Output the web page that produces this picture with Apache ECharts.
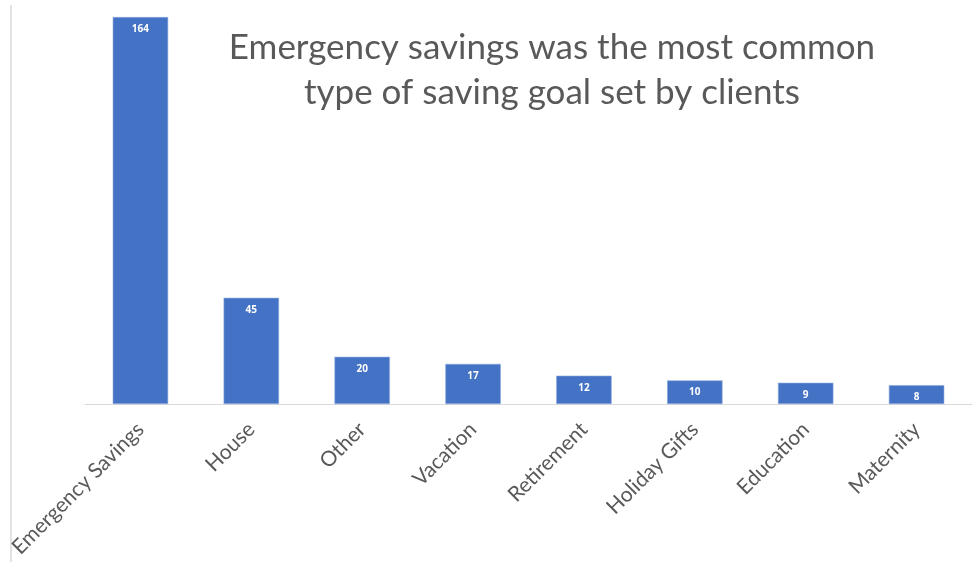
<!DOCTYPE html>
<html>
<head>
<meta charset="utf-8">
<script src="https://cdn.jsdelivr.net/npm/echarts@6/dist/echarts.min.js"></script>
<style>
  html, body { margin: 0; padding: 0; background: #ffffff; }
  #chart { width: 977px; height: 562px; }
</style>
</head>
<body>
<div id="chart"></div>
<script>
// Saving goal types chosen by clients
const categories = ['Emergency Savings', 'House', 'Other', 'Vacation', 'Retirement', 'Holiday Gifts', 'Education', 'Maternity'];
const clientCounts = [164, 45, 20, 17, 12, 10, 9, 8];
const titleLines = ['Emergency savings was the most common', 'type of saving goal set by clients'];

const chart = echarts.init(document.getElementById('chart'));

chart.setOption({
  backgroundColor: '#ffffff',
  animation: false,
  title: {
    text: titleLines.join('\n'),
    left: 547,
    top: 20,
    textAlign: 'center',
    textStyle: {
      fontFamily: 'Lato',
      fontWeight: 'normal',
      fontSize: 35,
      color: '#595959',
      lineHeight: 45
    }
  },
  grid: {
    left: 85,
    right: 5,
    top: 17,
    bottom: 158,
    containLabel: false
  },
  xAxis: {
    type: 'category',
    data: categories,
    axisLine: { show: true, lineStyle: { color: '#d9d9d9', width: 1 } },
    axisTick: { show: false },
    axisLabel: {
      interval: 0,
      rotate: 45,
      margin: 22,
      fontFamily: 'Lato',
      fontSize: 21,
      color: '#595959'
    }
  },
  yAxis: {
    type: 'value',
    min: 0,
    max: 164,
    show: false,
    splitLine: { show: false }
  },
  series: [{
    type: 'bar',
    data: clientCounts,
    barWidth: '50%',
    itemStyle: {
      color: '#4472c4',
      borderColor: '#8faadc',
      borderWidth: 0.6
    },
    label: {
      show: true,
      position: 'insideTop',
      distance: 7,
      color: '#ffffff',
      fontFamily: 'Open Sans',
      fontWeight: 'bold',
      fontSize: 10
    }
  }],
  graphic: [{
    type: 'line',
    shape: { x1: 11, y1: 5, x2: 11, y2: 562 },
    style: { stroke: '#e3e3e3', lineWidth: 2 }
  }]
});
</script>
</body>
</html>
